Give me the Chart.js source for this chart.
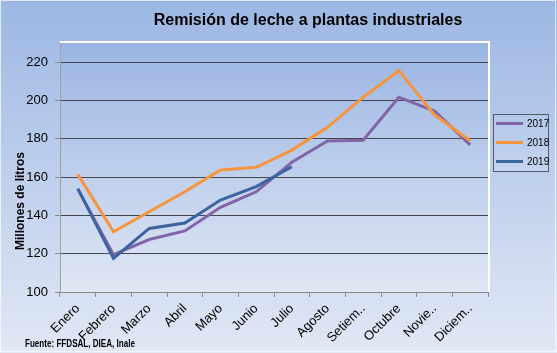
<!DOCTYPE html>
<html>
<head>
<meta charset="utf-8">
<script src="https://cdn.jsdelivr.net/npm/chart.js@4.4.1/dist/chart.umd.min.js"></script>
<style>
html,body{margin:0;padding:0;background:#fff;}
#wrap{width:557px;height:353px;position:relative;}
</style>
</head>
<body>
<div id="wrap"><canvas id="c" width="557" height="353"></canvas></div>
<script>
const categories = ['Enero','Febrero','Marzo','Abril','Mayo','Junio','Julio','Agosto','Setiem..','Octubre','Novie..','Diciem..'];
const serie2017 = [153.7, 119.5, 127.4, 131.9, 144.2, 152.3, 167.7, 178.8, 179.2, 201.7, 194.5, 176.8];
const serie2018 = [161.4, 131.4, 141.9, 152.3, 163.7, 165.1, 174.1, 186.0, 201.7, 215.6, 192.5, 179.0];
const serie2019 = [154.0, 117.5, 133.2, 136.0, 148.0, 155.0, 165.4];
const yTicks = [100, 120, 140, 160, 180, 200, 220];
const seriesNames = ['2017', '2018', '2019'];
const seriesColors = ['#8066a6', '#f7953e', '#3b64a0'];
const titleText = 'Remisión de leche a plantas industriales';
const yTitleText = 'Millones de litros';
const sourceText = 'Fuente: FFDSAL, DIEA, Inale';

const FONT = "'Liberation Sans', Arial, sans-serif";

const decor = {
  id: 'decor',
  beforeDraw(chart) {
    const ctx = chart.ctx, W = chart.width, H = chart.height;
    const a = chart.chartArea;
    ctx.save();
    let g = ctx.createLinearGradient(0, 0, 0, H);
    g.addColorStop(0, '#9cb7e4');
    g.addColorStop(1, '#e1e8f5');
    ctx.fillStyle = g;
    ctx.fillRect(0, 0, W, H);
    ctx.strokeStyle = 'rgba(255,255,255,0.7)';
    ctx.lineWidth = 1;
    ctx.strokeRect(0.5, 0.5, W - 2, H - 2);
    g = ctx.createLinearGradient(0, a.top, 0, a.bottom);
    g.addColorStop(0, '#9ab5e3');
    g.addColorStop(1, '#e0e7f4');
    ctx.fillStyle = g;
    ctx.fillRect(a.left, a.top, a.right - a.left, a.bottom - a.top);
    ctx.restore();
  },
  beforeDatasetsDraw(chart) {
    const ctx = chart.ctx, a = chart.chartArea;
    ctx.save();
    ctx.strokeStyle = '#ffffff';
    ctx.lineWidth = 2;
    ctx.beginPath();
    ctx.moveTo(a.left, a.top - 1);
    ctx.lineTo(a.right + 1, a.top - 1);
    ctx.lineTo(a.right + 1, a.bottom);
    ctx.stroke();
    ctx.restore();
  },
  afterDraw(chart) {
    const ctx = chart.ctx;
    ctx.save();
    // title
    ctx.fillStyle = '#000';
    ctx.font = 'bold 16px ' + FONT;
    ctx.textAlign = 'center';
    ctx.textBaseline = 'middle';
    ctx.fillText(titleText, 308, 21);
    // y title
    ctx.save();
    ctx.translate(21, 201);
    ctx.rotate(-Math.PI / 2);
    ctx.font = 'bold 12px ' + FONT;
    ctx.fillText(yTitleText, 0, 0);
    ctx.restore();
    // source
    ctx.font = "bold 10px 'Liberation Sans Narrow', 'Arial Narrow', " + FONT;
    ctx.textAlign = 'left';
    ctx.textBaseline = 'alphabetic';
    ctx.fillText(sourceText, 25, 347, 110);
    // legend
    const lx = 493, ly = 114, lw = 55, lh = 57;
    let g = ctx.createLinearGradient(0, ly, 0, ly + lh);
    g.addColorStop(0, '#b4c8ea');
    g.addColorStop(1, '#c4d3ee');
    ctx.fillStyle = g;
    ctx.fillRect(lx, ly, lw, lh);
    ctx.strokeStyle = '#555a66';
    ctx.lineWidth = 1;
    ctx.strokeRect(lx + 0.5, ly + 0.5, lw, lh);
    const rows = [123.5, 142.5, 161.5];
    ctx.font = '10px ' + FONT;
    ctx.textBaseline = 'middle';
    chart.data.datasets.forEach((ds, i) => {
      ctx.strokeStyle = ds.borderColor;
      ctx.lineWidth = 3;
      ctx.beginPath();
      ctx.moveTo(lx + 3, rows[i]);
      ctx.lineTo(lx + 30, rows[i]);
      ctx.stroke();
      ctx.fillStyle = '#000';
      ctx.fillText(ds.label, lx + 34, rows[i] + 0.5);
    });
    ctx.restore();
  }
};

new Chart(document.getElementById('c'), {
  type: 'line',
  data: {
    labels: categories,
    datasets: [
      { label: seriesNames[0], data: serie2017, borderColor: seriesColors[0], order: 2 },
      { label: seriesNames[1], data: serie2018, borderColor: seriesColors[1], order: 1 },
      { label: seriesNames[2], data: serie2019, borderColor: seriesColors[2], order: 0 }
    ]
  },
  options: {
    responsive: false,
    animation: false,
    devicePixelRatio: 1,
    layout: { padding: { left: 0, right: 69, top: 43, bottom: 0 } },
    elements: {
      line: { borderWidth: 3, tension: 0, borderJoinStyle: 'miter', fill: false },
      point: { radius: 0, hoverRadius: 0 }
    },
    plugins: { legend: { display: false }, title: { display: false }, tooltip: { enabled: false } },
    scales: {
      x: {
        type: 'category',
        offset: true,
        grid: { offset: true, drawOnChartArea: false, drawTicks: true, tickLength: 5, color: '#8a8a8a', tickColor: '#8a8a8a' },
        border: { color: '#8a8a8a', width: 1 },
        ticks: { minRotation: 45, maxRotation: 45, autoSkip: false, padding: 4, color: '#000', font: { size: 13, family: FONT } },
        afterFit(s) { s.height = 61; }
      },
      y: {
        min: 100,
        max: 230,
        afterBuildTicks(s) { s.ticks = yTicks.map(v => ({ value: v })); },
        grid: {
          drawTicks: true, tickLength: 5,
          color: ctx => (ctx.tick && ctx.tick.value === 100) ? 'rgba(0,0,0,0)' : '#45474f',
          tickColor: '#8a8a8a'
        },
        border: { color: '#a0a0a0', width: 1 },
        ticks: { padding: 7, color: '#000', font: { size: 13, family: FONT } },
        afterFit(s) { s.width = 60; }
      }
    }
  },
  plugins: [decor]
});
</script>
</body>
</html>
